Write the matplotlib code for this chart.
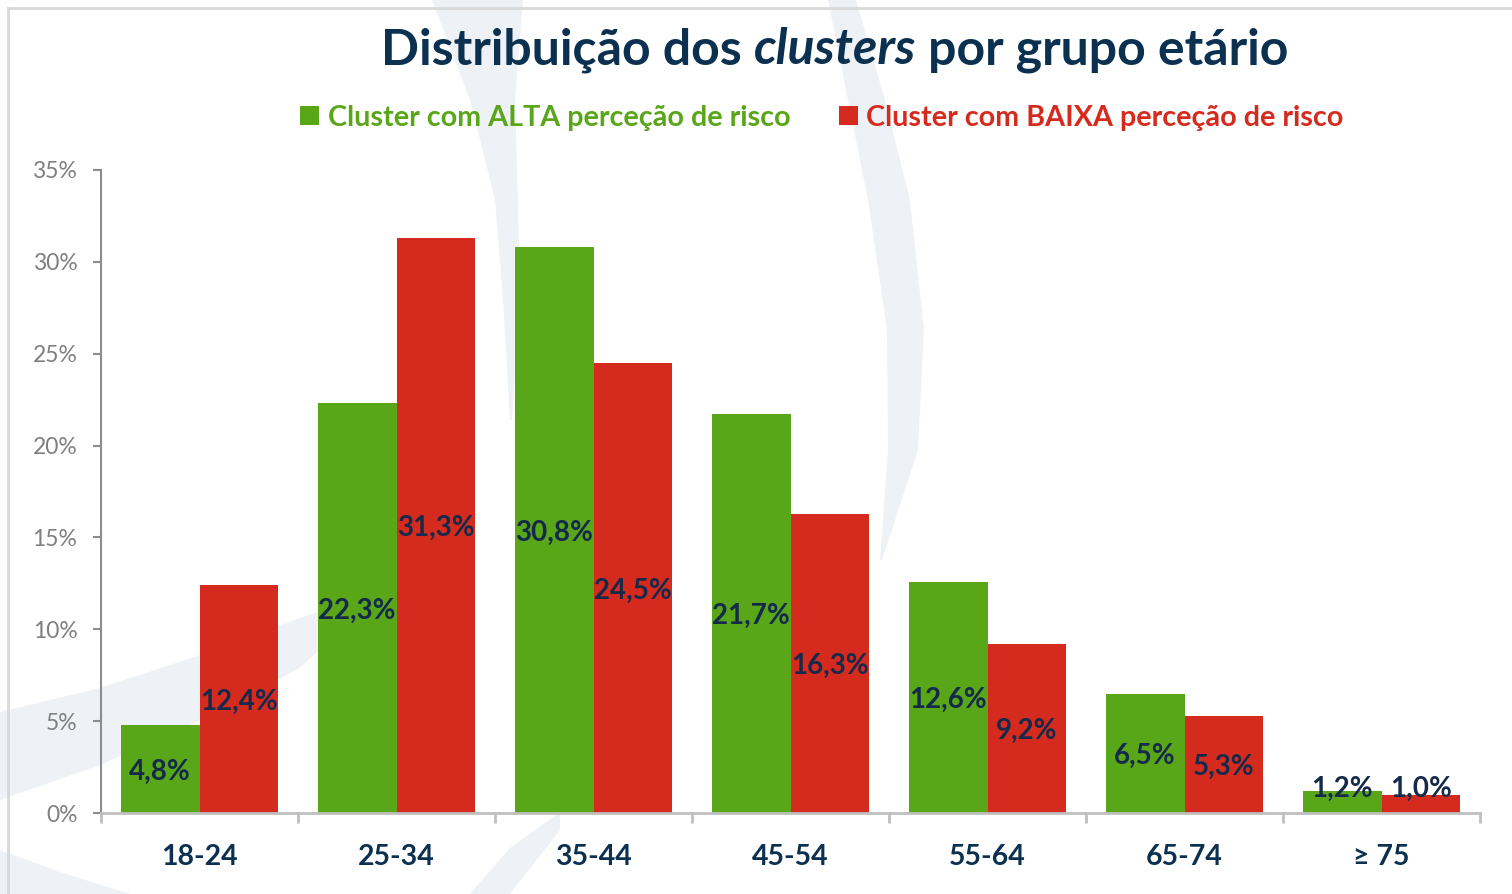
import matplotlib
matplotlib.use("Agg")
import matplotlib.pyplot as plt
from matplotlib.patches import Polygon
import numpy as np

plt.rcParams['font.family'] = ['Lato', 'DejaVu Sans']

# data
age_groups = ['18-24', '25-34', '35-44', '45-54', '55-64', '65-74', '≥ 75']
alta = [4.8, 22.3, 30.8, 21.7, 12.6, 6.5, 1.2]
baixa = [12.4, 31.3, 24.5, 16.3, 9.2, 5.3, 1.0]
series_names = ['Cluster com ALTA perceção de risco', 'Cluster com BAIXA perceção de risco']
y_ticks = [0, 5, 10, 15, 20, 25, 30, 35]

GREEN = '#59a618'
RED = '#d52b1e'
NAVY = '#0b3050'
LABEL = '#15294a'
W, H = 1512, 894

fig = plt.figure(figsize=(W / 100, H / 100), dpi=100)
fig.patch.set_facecolor('white')


def px(pts):
    # pixel coords (top-left origin) -> figure fraction
    return [(x / W, 1 - y / H) for x, y in pts]


def band(ys, left, right):
    # smooth vertical-ish band from a few edge points
    yy = np.linspace(ys[0], ys[-1], 80)
    lx = np.interp(yy, ys, left)
    rx = np.interp(yy, ys, right)
    return list(zip(lx, yy)) + list(zip(rx[::-1], yy[::-1]))


def hband(xs, top, bottom):
    xx = np.linspace(xs[0], xs[-1], 80)
    ty = np.interp(xx, xs, top)
    by = np.interp(xx, xs, bottom)
    return list(zip(xx, ty)) + list(zip(xx[::-1], by[::-1]))


# faint watermark shapes in the background
wm = '#eef2f6'
shapes = [
    band([0, 100, 200, 330, 450, 560], [828, 848, 868, 887, 888, 880], [856, 885, 910, 924, 918, 882]),
    band([0, 100, 200, 300, 420], [432, 470, 495, 503, 510], [523, 515, 518, 520, 512]),
    hband([0, 100, 200, 300, 380], [712, 688, 655, 618, 590], [800, 765, 720, 668, 592]),
    hband([0, 60, 130], [850, 872, 894], [894, 894, 894]),
    hband([470, 510, 560], [894, 848, 812], [894, 894, 830]),
]
for s in shapes:
    fig.patches.append(Polygon(px(s), closed=True, transform=fig.transFigure,
                               facecolor=wm, edgecolor='none', zorder=-10))

# frame lines top and left
fig.add_artist(plt.Line2D([8 / W, 1], [1 - 8 / H, 1 - 8 / H], transform=fig.transFigure,
                          color='#d9d9d9', lw=2, zorder=-5))
fig.add_artist(plt.Line2D([8 / W, 8 / W], [0, 1 - 8 / H], transform=fig.transFigure,
                          color='#d9d9d9', lw=2, zorder=-5))

ax = fig.add_axes([101 / W, (H - 813) / H, (1480 - 101) / W, (813 - 170) / H])
ax.set_facecolor('none')
ax.set_zorder(1)

x = np.arange(len(age_groups))
bw = 0.4
b1 = ax.bar(x - bw, alta, width=bw, align='edge', color=GREEN, label=series_names[0], zorder=2)
b2 = ax.bar(x, baixa, width=bw, align='edge', color=RED, label=series_names[1], zorder=2)

for xs, vals in [(x - bw / 2, alta), (x + bw / 2, baixa)]:
    for xi, v in zip(xs, vals):
        ypos = max(v / 2, 1.45)
        ax.text(xi, ypos, f"{v:.1f}".replace('.', ',') + '%', ha='center', va='center_baseline',
                fontsize=20, fontweight='bold', color=LABEL, zorder=3)

ax.set_xlim(-0.5, len(age_groups) - 0.5)
ax.set_ylim(0, 35)
ax.set_yticks(y_ticks)
ax.set_yticklabels([f"{t}%" for t in y_ticks])
ax.set_xticks(x)
ax.set_xticklabels(age_groups)
ax.set_xticks(np.arange(-0.5, len(age_groups)), minor=True)

for side in ['top', 'right']:
    ax.spines[side].set_visible(False)
ax.spines['left'].set_color('#8c8c8c')
ax.spines['left'].set_linewidth(1.5)
ax.spines['bottom'].set_color('#bfbfbf')
ax.spines['bottom'].set_linewidth(2)

ax.tick_params(axis='y', length=6, width=1.5, color='#8c8c8c', labelsize=16.5,
               labelcolor='#7f7f7f', pad=11)
ax.tick_params(axis='x', which='major', length=0, labelsize=20.5, labelcolor=NAVY, pad=22)
ax.tick_params(axis='x', which='minor', length=7, width=2, color='#bfbfbf')
for lbl in ax.get_xticklabels():
    lbl.set_fontweight('bold')

leg = ax.legend(handles=[b1, b2], loc='center', bbox_to_anchor=(822 / W, 1 - 118 / H),
                bbox_transform=fig.transFigure, ncol=2, frameon=False, fontsize=20.7,
                handlelength=0.65, handleheight=0.65, handletextpad=0.3,
                columnspacing=1.7, labelcolor=[GREEN, RED])
for t in leg.get_texts():
    t.set_fontweight('bold')

# title with italic word
parts = [('Distribuição dos ', 'normal'), ('clusters', 'italic'), (' por grupo etário', 'normal')]
renderer = fig.canvas.get_renderer()
tobjs = []
for s, st in parts:
    t = fig.text(0, 1 - 50 / H, s, fontsize=36, fontweight='bold', fontstyle=st,
                 color=NAVY, va='center', ha='left')
    tobjs.append(t)
widths = [t.get_window_extent(renderer).width for t in tobjs]
start = 835 - sum(widths) / 2
for t, w in zip(tobjs, widths):
    t.set_x(start / W)
    start += w

fig.savefig('out.png', dpi=100, facecolor='white')
